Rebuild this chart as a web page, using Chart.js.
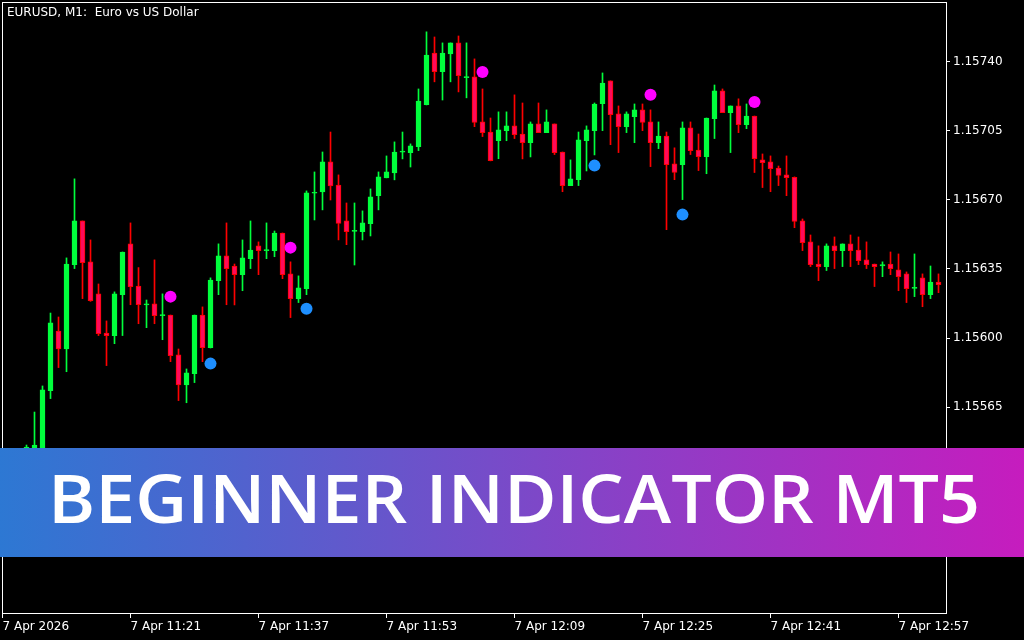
<!DOCTYPE html>
<html><head><meta charset="utf-8">
<script src="https://cdn.jsdelivr.net/npm/chart.js@4.4.1/dist/chart.umd.min.js"></script>
<style>
html,body{margin:0;padding:0;background:#000;width:1024px;height:640px;overflow:hidden;}
#wrap{position:relative;width:1024px;height:640px;}
canvas{display:block;}
#title{position:absolute;left:7px;top:5px;color:#fff;font:12px "DejaVu Sans";white-space:pre;line-height:14px;}
#banner{position:absolute;left:0;top:448px;width:1024px;height:109px;background:linear-gradient(90deg,#2d78d3 0%,#c61cbe 100%);overflow:hidden;}
#bannerText{position:absolute;left:48px;top:15px;white-space:nowrap;color:#fff;font:600 67px "Open Sans";transform-origin:0 0;}
</style></head>
<body><div id="wrap"><canvas id="c" width="1024" height="640"></canvas>
<div id="title">EURUSD, M1:  Euro vs US Dollar</div>
<div id="banner"><span id="bannerText">BEGINNER INDICATOR MT5</span></div></div>
<script>
// ---- data (EURUSD M1, 7 Apr 2026) ----
const axisStart = '11:05';
const firstCandle = '11:08';
const tickTimes = ['11:05','11:21','11:37','11:53','12:09','12:25','12:41','12:57'];
const tickLabels = ['7 Apr 2026','7 Apr 11:21','7 Apr 11:37','7 Apr 11:53','7 Apr 12:09','7 Apr 12:25','7 Apr 12:41','7 Apr 12:57'];
const priceTicks = [1.15495,1.15530,1.15565,1.15600,1.15635,1.15670,1.15705,1.15740];

const open = [
1.155333,1.155373,1.155424,1.155734,1.156036,1.155945,1.156372,1.156593,1.156386,1.156224,
1.156026,1.156013,1.156220,1.156477,1.156264,1.156168,1.156173,1.156114,1.156117,1.155915,
1.155763,1.155820,1.156117,1.155952,1.156291,1.156416,1.156365,1.156321,1.156402,1.156467,
1.156443,1.156443,1.156532,1.156325,1.156200,1.156250,1.156733,1.156740,1.156892,1.156775,
1.156593,1.156540,1.156539,1.156579,1.156721,1.156811,1.156836,1.156941,1.156939,1.156969,
1.157182,1.157443,1.157349,1.157438,1.157494,1.157318,1.157322,1.157094,1.157043,1.156999,
1.157050,1.157074,1.157033,1.156989,1.157084,1.157040,1.157084,1.156942,1.156772,1.156802,
1.156999,1.157050,1.157187,1.157302,1.157135,1.157070,1.157121,1.157155,1.157094,1.156989,
1.157023,1.156882,1.156878,1.157064,1.156952,1.156918,1.157111,1.157251,1.157141,1.157175,
1.157080,1.157124,1.156902,1.156892,1.156861,1.156826,1.156814,1.156593,1.156487,1.156375,
1.156362,1.156467,1.156443,1.156477,1.156446,1.156396,1.156375,1.156365,1.156375,1.156345,
1.156325,1.156252,1.156305,1.156220,1.156284];
const high = [
1.155459,1.155626,1.155758,1.156127,1.156107,1.156406,1.156806,1.156593,1.156497,1.156274,
1.156087,1.156234,1.156436,1.156583,1.156357,1.156193,1.156396,1.156224,1.156117,1.155945,
1.155844,1.156117,1.156158,1.156305,1.156477,1.156583,1.156375,1.156497,1.156593,1.156487,
1.156583,1.156542,1.156532,1.156386,1.156315,1.156745,1.156841,1.156942,1.157043,1.156826,
1.156684,1.156684,1.156644,1.156755,1.156841,1.156922,1.156993,1.157043,1.156983,1.157261,
1.157550,1.157524,1.157494,1.157494,1.157529,1.157494,1.157413,1.157261,1.157114,1.157145,
1.157145,1.157231,1.157190,1.157094,1.157190,1.157155,1.157084,1.156942,1.156902,1.157043,
1.157074,1.157190,1.157342,1.157302,1.157175,1.157145,1.157185,1.157185,1.157155,1.157094,
1.157043,1.156963,1.157094,1.157094,1.157033,1.157114,1.157281,1.157261,1.157175,1.157211,
1.157185,1.157124,1.156932,1.156922,1.156871,1.156922,1.156816,1.156603,1.156522,1.156467,
1.156477,1.156512,1.156477,1.156522,1.156512,1.156487,1.156375,1.156386,1.156436,1.156426,
1.156335,1.156426,1.156325,1.156365,1.156325];
const low = [
1.155303,1.155343,1.155394,1.155694,1.155851,1.155830,1.156352,1.156200,1.156186,1.156013,
1.155861,1.155972,1.156013,1.156169,1.156073,1.156053,1.156073,1.155992,1.155881,1.155684,
1.155673,1.155775,1.155881,1.155950,1.156220,1.156169,1.156168,1.156240,1.156352,1.156321,
1.156402,1.156412,1.156301,1.156104,1.156180,1.156220,1.156598,1.156649,1.156699,1.156497,
1.156473,1.156370,1.156497,1.156517,1.156649,1.156811,1.156801,1.156907,1.156866,1.156949,
1.157180,1.157297,1.157205,1.157297,1.157246,1.157216,1.157070,1.157020,1.156897,1.156908,
1.156999,1.157010,1.156907,1.156917,1.157040,1.157040,1.156929,1.156741,1.156772,1.156772,
1.156846,1.156927,1.157050,1.156979,1.156939,1.157040,1.156989,1.157050,1.156868,1.156959,
1.156549,1.156802,1.156701,1.156929,1.156848,1.156832,1.157010,1.157141,1.156939,1.157040,
1.157060,1.156838,1.156762,1.156741,1.156772,1.156721,1.156559,1.156443,1.156362,1.156291,
1.156342,1.156352,1.156362,1.156362,1.156372,1.156352,1.156261,1.156311,1.156321,1.156240,
1.156180,1.156210,1.156159,1.156200,1.156230];
const close = [
1.155449,1.155459,1.155738,1.156077,1.155945,1.156375,1.156593,1.156382,1.156190,1.156023,
1.156013,1.156224,1.156436,1.156261,1.156169,1.156173,1.156114,1.156118,1.155911,1.155763,
1.155824,1.156117,1.155952,1.156294,1.156416,1.156352,1.156321,1.156406,1.156446,1.156443,
1.156447,1.156532,1.156321,1.156200,1.156254,1.156735,1.156737,1.156892,1.156770,1.156581,
1.156539,1.156544,1.156583,1.156715,1.156816,1.156841,1.156942,1.156944,1.156973,1.157200,
1.157433,1.157349,1.157443,1.157494,1.157328,1.157322,1.157091,1.157040,1.156898,1.157054,
1.157074,1.157030,1.156989,1.157084,1.157040,1.157094,1.156939,1.156772,1.156806,1.157003,
1.157054,1.157185,1.157291,1.157131,1.157070,1.157135,1.157155,1.157091,1.156989,1.157023,
1.156878,1.156838,1.157064,1.156949,1.156918,1.157114,1.157251,1.157141,1.157175,1.157080,
1.157124,1.156908,1.156888,1.156858,1.156824,1.156812,1.156590,1.156483,1.156372,1.156362,
1.156467,1.156443,1.156477,1.156443,1.156392,1.156372,1.156362,1.156372,1.156352,1.156311,
1.156250,1.156256,1.156220,1.156284,1.156271];

const sellTimes  = ['11:26','11:41','12:05','12:26','12:39'];
const sellPrices = [1.156210,1.156458,1.157347,1.157232,1.157195];
const buyTimes   = ['11:31','11:43','12:19','12:30'];
const buyPrices  = [1.155871,1.156149,1.156873,1.156625];

// ---- build ----
const toMin = s => { const [h, m] = s.split(':').map(Number); return h * 60 + m; };
const t0 = toMin(axisStart);
const x0 = toMin(firstCandle) - t0;
const up = open.map((o, i) => close[i] >= o);
const tickPos = tickTimes.map(t => toMin(t) - t0);
const labelAt = {};
tickPos.forEach((p, i) => labelAt[p] = tickLabels[i]);

const UP_COL = '#00ff3c', DN_FILL = '#ff0a5a', DN_LINE = '#ff0000';
const font = { family: 'DejaVu Sans', size: 12 };

const borderPlugin = {
  id: 'frame',
  afterDraw(chart) {
    const { ctx, chartArea: a } = chart;
    ctx.save();
    ctx.strokeStyle = '#ffffff';
    ctx.lineWidth = 1;
    ctx.strokeRect(a.left + 0.5, a.top + 0.5, a.right - a.left, a.bottom - a.top);
    ctx.restore();
  }
};

new Chart(document.getElementById('c'), {
  type: 'bar',
  data: {
    datasets: [
      { type: 'scatter', label: 'sell', order: 0,
        data: sellTimes.map((t, i) => ({ x: toMin(t) - t0, y: sellPrices[i] })),
        pointRadius: 6, pointBackgroundColor: '#ff00ff', pointBorderWidth: 0, showLine: false },
      { type: 'scatter', label: 'buy', order: 0,
        data: buyTimes.map((t, i) => ({ x: toMin(t) - t0, y: buyPrices[i] })),
        pointRadius: 6, pointBackgroundColor: '#1e8fff', pointBorderWidth: 0, showLine: false },
      { label: 'body', order: 1, grouped: false,
        data: open.map((o, i) => ({ x: x0 + i, y: [o, close[i]] })),
        backgroundColor: up.map(u => u ? UP_COL : DN_FILL),
        borderColor: up.map(u => u ? UP_COL : DN_LINE),
        borderWidth: 1, borderSkipped: false, barThickness: 5, minBarLength: 1 },
      { label: 'wick', order: 2, grouped: false,
        data: low.map((l, i) => ({ x: x0 + i, y: [l, high[i]] })),
        backgroundColor: up.map(u => u ? UP_COL : DN_LINE),
        borderWidth: 0, barThickness: 1 }
    ]
  },
  options: {
    responsive: false, animation: false, devicePixelRatio: 1, events: [],
    layout: { autoPadding: false, padding: { left: 2, top: 2, right: 0, bottom: 0 } },
    plugins: { legend: { display: false }, tooltip: { enabled: false } },
    scales: {
      x: {
        type: 'linear', min: -0.0625, max: 117.9375, offset: false,
        grid: { display: true, offset: false, drawOnChartArea: false, drawTicks: true, tickLength: 5, color: '#ffffff', lineWidth: 1 },
        border: { display: false },
        ticks: { color: '#ffffff', font, align: 'start', padding: 2, maxRotation: 0, autoSkip: false,
                 callback: v => labelAt[v] ?? '' },
        afterBuildTicks: s => { s.ticks = tickPos.map(v => ({ value: v })); },
        afterFit: s => { s.height = 27; s.paddingLeft = 0; s.paddingRight = 0; }
      },
      y: {
        type: 'linear', position: 'right', min: 1.154609, max: 1.157701,
        grid: { display: true, drawOnChartArea: false, drawTicks: true, tickLength: 4, color: '#ffffff', lineWidth: 1 },
        border: { display: false },
        ticks: { color: '#ffffff', font, padding: 3, callback: v => Number(v).toFixed(5) },
        afterBuildTicks: s => { s.ticks = priceTicks.map(v => ({ value: v })); },
        afterFit: s => { s.width = 78; s.paddingTop = 0; s.paddingBottom = 0; }
      }
    }
  },
  plugins: [borderPlugin]
});

// fit banner text to the reference width
(function () {
  const el = document.getElementById('bannerText');
  const c = document.createElement('canvas').getContext('2d');
  c.font = '600 67px "Open Sans"';
  const m = c.measureText(el.textContent);
  const asc = m.fontBoundingBoxAscent || 67 * 1.069;
  const desc = m.fontBoundingBoxDescent || 67 * 0.293;
  el.style.lineHeight = (asc + desc) + 'px';
  el.style.top = (75 - asc) + 'px';
  el.style.transform = 'scaleX(' + (932 / m.width) + ')';
})();
</script>
</body></html>
